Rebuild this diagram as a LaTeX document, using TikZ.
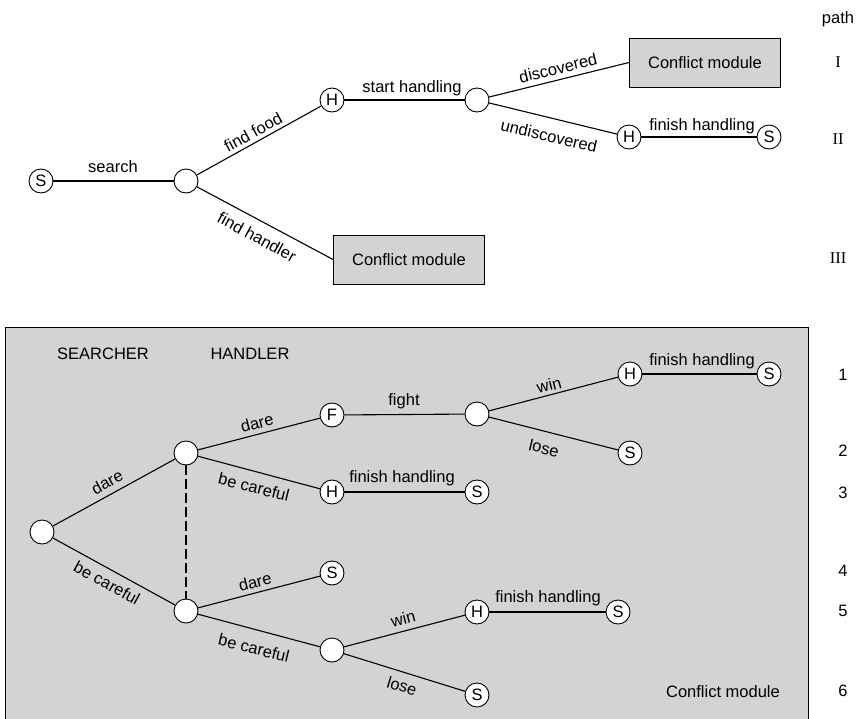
\documentclass[tikz,border=0pt]{standalone}
\usepackage{fontspec}
\setmainfont{Liberation Sans}
\newfontfamily\serifnum{Liberation Serif}
\definecolor{boxgray}{RGB}{210,211,213}
\begin{document}
\begin{tikzpicture}[x=1pt,y=-1pt,
  font=\fontsize{16.5}{19}\selectfont,
  circ/.style={circle,draw,fill=white,minimum size=24pt,inner sep=0pt,line width=0.9pt},
  cbox/.style={draw,fill=boxgray,minimum width=151pt,minimum height=49pt,line width=0.9pt},
  edge/.style={line width=1.1pt},
  lab/.style={inner sep=1pt},
  num/.style={inner sep=0pt}]
\useasboundingbox (0,0) rectangle (862,718);

% ---------- top tree ----------
\node[circ] (s0) at (41,181) {S};
\node[circ] (c0) at (186,181) {};
\node[circ] (h0) at (332,100) {H};
\node[circ] (c1) at (477,100) {};
\node[cbox] (cm1) at (705,62.5) {Conflict module};
\node[circ] (h1) at (629,137) {H};
\node[circ] (s1) at (769,137) {S};
\node[cbox] (cm2) at (409,259.5) {Conflict module};

\draw[edge] (s0) -- (c0);
\draw[edge] (c0) -- (h0);
\draw[edge] (c0) -- (cm2.west);
\draw[edge] (h0) -- (c1);
\draw[edge] (c1) -- (cm1.west);
\draw[edge] (c1) -- (h1);
\draw[edge] (h1) -- (s1);

\node[lab] (l1) at (113,167) {search};
\node[lab,rotate=28.7] (l2) at (253,132) {find food};
\node[lab,rotate=-28.3] (l3) at (257,237) {find handler};
\node[lab] (l4) at (412,88) {start handling};
\node[lab,rotate=13.6] (l5) at (558,68) {discovered};
\node[lab,rotate=-13] (l6) at (549,136) {undiscovered};
\node[lab] (l7) at (702,126) {finish handling};

\node[num] (p0) at (838,19) {path};
\node[num,font=\serifnum\fontsize{16.5}{19}\selectfont] (p1) at (838,62) {I};
\node[num,font=\serifnum\fontsize{16.5}{19}\selectfont] (p2) at (838,139) {II};
\node[num,font=\serifnum\fontsize{16.5}{19}\selectfont] (p3) at (838,258) {III};

% ---------- bottom conflict module ----------
\fill[boxgray] (5,327) rectangle (808,722);
\draw[line width=1pt] (5,722) -- (5,327) -- (808,327) -- (808,722);

\node[lab] (t1) at (103,354) {SEARCHER};
\node[lab] (t2) at (250,354) {HANDLER};

\node[circ] (r) at (42,532) {};
\node[circ] (u) at (186,453) {};
\node[circ] (lw) at (186,611) {};
\node[circ] (f) at (332,415) {F};
\node[circ] (h2) at (332,492) {H};
\node[circ] (s2) at (332,573) {S};
\node[circ] (c3) at (332,650) {};
\node[circ] (c2) at (477,414) {};
\node[circ] (s3) at (477,492) {S};
\node[circ] (h3) at (630,374) {H};
\node[circ] (s4) at (769,374) {S};
\node[circ] (s5) at (630,453) {S};
\node[circ] (h4) at (477,612) {H};
\node[circ] (s6) at (618,612) {S};
\node[circ] (s7) at (477,695) {S};

\draw[edge] (r) -- (u);
\draw[edge] (r) -- (lw);
\draw[edge,dash pattern=on 10pt off 4pt] (u) -- (lw);
\draw[edge] (u) -- (f);
\draw[edge] (u) -- (h2);
\draw[edge] (lw) -- (s2);
\draw[edge] (lw) -- (c3);
\draw[edge] (f) -- (c2);
\draw[edge] (h2) -- (s3);
\draw[edge] (c2) -- (h3);
\draw[edge] (h3) -- (s4);
\draw[edge] (c2) -- (s5);
\draw[edge] (c3) -- (h4);
\draw[edge] (h4) -- (s6);
\draw[edge] (c3) -- (s7);

\node[lab,rotate=28.7] (b1) at (107,482) {dare};
\node[lab,rotate=-28.7] (b2) at (107,583) {be careful};
\node[lab,rotate=14.2] (b3) at (257,423) {dare};
\node[lab,rotate=-14] (b4) at (254,487) {be careful};
\node[lab,rotate=14] (b5) at (255,582) {dare};
\node[lab,rotate=-14] (b6) at (254,648) {be careful};
\node[lab] (b7) at (404,401) {fight};
\node[lab] (b8) at (402,478) {finish handling};
\node[lab,rotate=14.3] (b9) at (549,385) {win};
\node[lab,rotate=-14] (b10) at (544,448) {lose};
\node[lab] (b11) at (702,361) {finish handling};
\node[lab,rotate=14.7] (b12) at (403,619) {win};
\node[lab] (b13) at (548,598) {finish handling};
\node[lab,rotate=-17] (b14) at (402,686) {lose};
\node[lab] (b15) at (723,692) {Conflict module};

\node[num] (n1) at (843,375) {1};
\node[num] (n2) at (843,451) {2};
\node[num] (n3) at (843,493) {3};
\node[num] (n4) at (843,571) {4};
\node[num] (n5) at (843,611) {5};
\node[num] (n6) at (843,691) {6};
\end{tikzpicture}
\end{document}
